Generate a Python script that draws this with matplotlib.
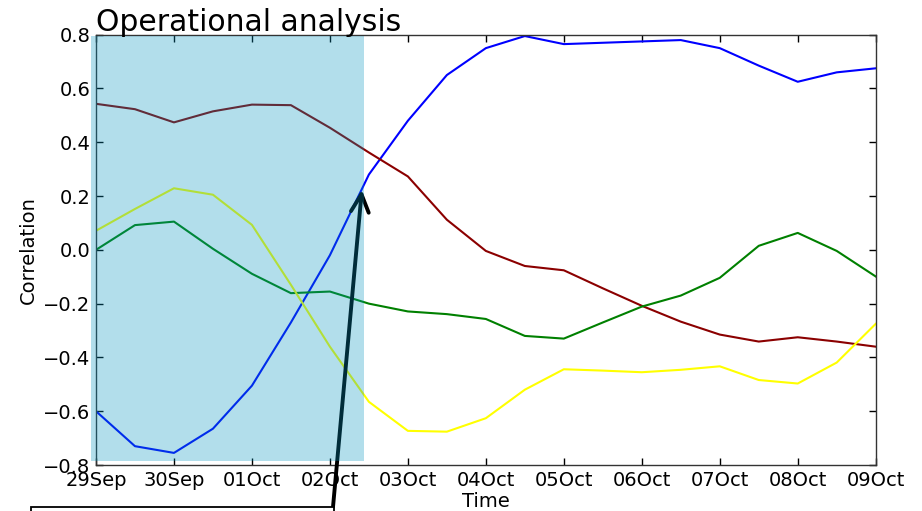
import matplotlib
matplotlib.use("Agg")
import matplotlib.pyplot as plt
import matplotlib.dates as mdates
from matplotlib.patches import Rectangle
import pandas as pd

# half-daily samples, 29 Sep -> 09 Oct
times = pd.date_range("2013-09-29 00:00", "2013-10-09 00:00", freq="12h")

corr_blue = [-0.60, -0.73, -0.755, -0.665, -0.505, -0.27, -0.02, 0.28, 0.48, 0.65, 0.75,
             0.795, 0.765, 0.77, 0.775, 0.78, 0.75, 0.685, 0.625, 0.66, 0.675]
corr_red = [0.543, 0.523, 0.474, 0.515, 0.54, 0.538, 0.454, 0.362, 0.273, 0.112, -0.004,
            -0.06, -0.076, -0.143, -0.208, -0.267, -0.315, -0.341, -0.325, -0.341, -0.36]
corr_green = [0.0, 0.092, 0.105, 0.004, -0.089, -0.161, -0.155, -0.20, -0.229, -0.239, -0.257,
              -0.32, -0.33, -0.27, -0.211, -0.17, -0.104, 0.015, 0.063, -0.004, -0.099]
corr_yellow = [0.071, 0.152, 0.229, 0.205, 0.093, -0.13, -0.36, -0.565, -0.673, -0.676, -0.626,
               -0.52, -0.444, -0.449, -0.455, -0.446, -0.433, -0.484, -0.497, -0.419, -0.275]

series = [
    (corr_blue, "#0000ff"),
    (corr_red, "#8b0000"),
    (corr_green, "#008000"),
    (corr_yellow, "#ffff00"),
]

shade_start = pd.Timestamp("2013-09-28 22:28")
shade_end = pd.Timestamp("2013-10-02 10:28")
arrow_tip = (pd.Timestamp("2013-10-02 09:50"), 0.223)

fig = plt.figure(figsize=(9.22, 5.11), dpi=100)
fig.patch.set_facecolor("white")
ax = fig.add_axes([0.1041, 0.0900, 0.8457, 0.8421])

for vals, color in series:
    ax.plot(times, vals, color=color, lw=1.5, zorder=2)

# analysis window, drawn over the lines
x0 = mdates.date2num(shade_start)
x1 = mdates.date2num(shade_end)
ax.add_patch(Rectangle((x0, -0.785), x1 - x0, 0.794 + 0.785,
                       facecolor="#0094c0", edgecolor="none", alpha=0.3,
                       zorder=3, clip_on=False))

ax.annotate("", xy=(mdates.date2num(arrow_tip[0]), arrow_tip[1]), xycoords="data",
            xytext=(333, 4), textcoords="figure pixels",
            arrowprops=dict(arrowstyle="->", lw=2.8, color="black",
                            shrinkA=0, shrinkB=0, mutation_scale=32),
            annotation_clip=False, zorder=2.8)

# label box, mostly below the figure edge
fig.patches.append(Rectangle((31 / 922, -0.05), (334 - 31) / 922, 0.05 + 4 / 511,
                             transform=fig.transFigure, facecolor="white",
                             edgecolor="black", lw=1.3, zorder=5))

ax.set_xlim(times[0], times[-1])
ax.set_ylim(-0.8, 0.8)
ax.set_yticks([-0.8, -0.6, -0.4, -0.2, 0.0, 0.2, 0.4, 0.6, 0.8])
ax.xaxis.set_major_locator(mdates.DayLocator())
ax.xaxis.set_major_formatter(mdates.DateFormatter("%d%b"))
ax.tick_params(direction="in", top=True, right=True, length=5, width=1,
               labelsize=14, pad=4)
for sp in ax.spines.values():
    sp.set_linewidth(1.0)
    sp.set_edgecolor("#333333")
    sp.set_zorder(2.5)

ax.set_xlabel("Time", fontsize=14, labelpad=2)
ax.set_ylabel("Correlation", fontsize=14, labelpad=4)
ax.set_title("Operational analysis", loc="left", fontsize=21.5, pad=3)

fig.savefig("out.png", dpi=100)
